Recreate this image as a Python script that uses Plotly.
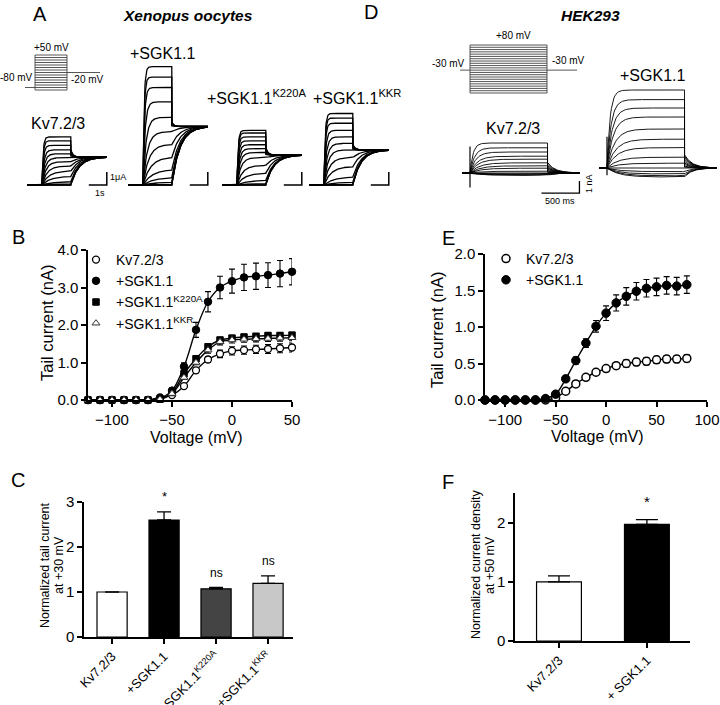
import numpy as np
import plotly.graph_objects as go

W, H = 720, 705
FONT = "Liberation Sans, Arial, sans-serif"

# ======================= DATA =======================
# Panel B (Xenopus oocytes): tail current (nA) vs voltage (mV)
B_voltage = list(range(-120, 51, 10))
B_kv = [0, 0, 0, 0, 0, 0, 0.07, 0.13, 0.37, 0.79, 1.08, 1.23, 1.31, 1.33, 1.35, 1.36, 1.38, 1.40]
B_kv_err = [0, 0, 0, 0, 0, 0, 0.01, 0.02, 0.04, 0.06, 0.08, 0.10, 0.11, 0.11, 0.11, 0.12, 0.12, 0.12]
B_sgk = [0, 0, 0, 0, 0, 0, 0.05, 0.25, 0.89, 1.87, 2.62, 3.00, 3.17, 3.27, 3.30, 3.33, 3.37, 3.42]
B_sgk_err = [0, 0, 0, 0, 0, 0, 0.02, 0.05, 0.10, 0.20, 0.27, 0.30, 0.32, 0.35, 0.35, 0.33, 0.35, 0.35]
B_k220a = [0, 0, 0, 0, 0, 0, 0.02, 0.20, 0.70, 1.10, 1.42, 1.60, 1.65, 1.68, 1.70, 1.72, 1.72, 1.73]
B_k220a_err = [0, 0, 0, 0, 0, 0, 0.01, 0.03, 0.05, 0.06, 0.07, 0.07, 0.07, 0.07, 0.07, 0.07, 0.07, 0.07]
B_kkr = [0, 0, 0, 0, 0, 0, 0.02, 0.17, 0.60, 1.00, 1.33, 1.55, 1.60, 1.62, 1.63, 1.64, 1.65, 1.66]
B_kkr_err = [0, 0, 0, 0, 0, 0, 0.01, 0.03, 0.05, 0.06, 0.08, 0.08, 0.08, 0.08, 0.08, 0.08, 0.08, 0.08]

# Panel E (HEK293): tail current (nA) vs voltage (mV)
E_voltage = list(range(-120, 81, 10))
E_kv = [0, 0, 0, 0, 0, 0, 0, 0.03, 0.12, 0.22, 0.31, 0.38, 0.43, 0.47, 0.50, 0.52, 0.53, 0.55, 0.56, 0.56, 0.57]
E_kv_err = [0, 0, 0, 0, 0, 0, 0, 0.01, 0.02, 0.02, 0.03, 0.03, 0.04, 0.04, 0.05, 0.05, 0.05, 0.05, 0.05, 0.05, 0.05]
E_sgk = [0, 0, 0, 0, 0, 0, 0.02, 0.08, 0.29, 0.54, 0.78, 1.01, 1.19, 1.33, 1.42, 1.49, 1.53, 1.55, 1.57, 1.56, 1.58]
E_sgk_err = [0, 0, 0, 0, 0, 0, 0.01, 0.02, 0.04, 0.05, 0.06, 0.08, 0.10, 0.11, 0.12, 0.12, 0.12, 0.12, 0.12, 0.12, 0.12]

# Panel C: normalized tail current at +30 mV
C_labels = ["Kv7.2/3", "+SGK1.1", "+SGK1.1<sup>K220A</sup>", "+SGK1.1<sup>KKR</sup>"]
C_values = [1.0, 2.60, 1.07, 1.19]
C_err = [0.0, 0.18, 0.03, 0.17]
C_colors = ["white", "black", "#444444", "#c8c8c8"]
C_marks = ["", "*", "ns", "ns"]

# Panel F: normalized current density at +50 mV
F_labels = ["Kv7.2/3", "+ SGK1.1"]
F_values = [1.0, 1.97]
F_err = [0.10, 0.08]
F_colors = ["white", "black"]
F_marks = ["", "*"]

# Panel A: example sweeps (end-of-step amplitude, uA) and tail level at -20 mV
A_titles = ["Kv7.2/3", "+SGK1.1", "+SGK1.1<sup>K220A</sup>", "+SGK1.1<sup>KKR</sup>"]
A_amp_kv = [3.7, 3.4, 3.05, 2.7, 2.4, 2.1, 1.8, 1.45, 1.05, 0.65, 0.25, 0.08, 0.0, 0.0]
A_amp_sgk = [9.1, 8.3, 7.5, 6.4, 5.2, 4.1, 3.1, 2.1, 1.15, 0.55, 0.2, 0.05, 0.0, 0.0]
A_amp_k220a = [4.2, 4.0, 3.7, 3.4, 3.1, 2.8, 2.5, 2.1, 1.5, 0.9, 0.35, 0.1, 0.0, 0.0]
A_amp_kkr = [5.5, 5.15, 4.75, 4.2, 3.7, 3.2, 2.7, 2.1, 1.4, 0.6, 0.2, 0.05, 0.0, 0.0]
A_tail_level = [2.15, 4.5, 2.3, 2.7]
A_tail_drop = [0.35, 0.07, 0.30, 0.15]
A_protocol_steps = list(range(-90, 51, 10))   # mV
A_hold_mv, A_tail_mv = -80, -20
A_scale_t, A_scale_i = 1.0, 1.0              # 1 s, 1 uA

# Panel D: example sweeps (steady amplitude, nA relative to holding)
D_amp_kv = [2.5, 2.1, 1.75, 1.4, 1.15, 0.85, 0.6, 0.4, 0.15, 0.0, -0.08, -0.12, -0.16, -0.2]
D_amp_sgk = [6.5, 5.7, 5.0, 4.25, 3.25, 2.4, 1.7, 0.9, 0.4, 0.0, -0.3, -0.5, -0.65, -0.75]
D_tail_drop = [0.35, 0.17]
D_transient_kv = [2.2, -1.2]
D_transient_sgk = [2.6, -0.6]
D_protocol_steps = list(range(-130, 81, 10))  # mV
D_hold_mv = -30
D_scale_t, D_scale_i = 0.5, 1.0              # 500 ms, 1 nA

# ======================= HELPERS =======================
def dx(a, b):
    return [a / W, b / W]

def dy(top, bottom):
    return [1 - bottom / H, 1 - top / H]

STEP_A, HOLD_A, TAIL_A = 1.6, 0.8, 2.0
STEP_D, HOLD_D, TAIL_D = 1.02, 0.1, 0.42


def ooc_sweeps(amps, tail_level, drop):
    amax = max(amps)
    t_step = np.linspace(0, STEP_A, 90)
    t_tail = np.linspace(0, TAIL_A, 90)
    xs, ys = [], []
    for a in amps:
        frac = a / amax
        tau = 0.06 + 0.6 * (1 - frac) ** 2
        step = a * (1 - np.exp(-t_step / tau)) / (1 - np.exp(-STEP_A / tau))
        s = a if a <= tail_level else tail_level + drop * (a - tail_level)
        tau_t = 0.12 if s > tail_level else 0.45
        tail = tail_level + (s - tail_level) * np.exp(-t_tail / tau_t)
        xs += [-HOLD_A] + list(t_step) + list(STEP_A + t_tail) + [None]
        ys += [0.0] + list(step) + list(tail) + [None]
    return xs, ys


def hek_sweeps(amps, drop):
    amax = max(amps)
    t_step = np.linspace(0, STEP_D, 90)
    t_tail = np.linspace(0, TAIL_D, 60)
    xs, ys = [], []
    for a in amps:
        tau = 0.04 + 0.12 * (1 - max(a, 0) / amax)
        step = a * (1 - np.exp(-t_step / tau)) / (1 - np.exp(-STEP_D / tau))
        s = drop * a if a > 0 else a
        tail = s * np.exp(-t_tail / 0.1)
        xs += [-HOLD_D] + list(t_step) + list(STEP_D + t_tail) + [None]
        ys += [0.0] + list(step) + list(tail) + [None]
    return xs, ys


def protocol(steps, hold, tail, t_step, t_hold, t_tail):
    xs, ys = [], []
    for v in steps:
        xs += [0, t_step, None]
        ys += [v, v, None]
    xs += [0, 0, None, t_step, t_step, None, -t_hold, 0, None, t_step, t_step + t_tail]
    ys += [min(steps), max(steps), None, min(steps), max(steps), None, hold, hold, None, tail, tail]
    return xs, ys


def err_or_none(errs):
    return [e if e > 0 else None for e in errs]


fig = go.Figure()

# ---------- Panel B ----------
B_series = [
    ("Kv7.2/3", B_kv, B_kv_err, dict(symbol="circle", color="white", size=7, line=dict(color="black", width=1.3))),
    ("+SGK1.1", B_sgk, B_sgk_err, dict(symbol="circle", color="black", size=7.5, line=dict(color="black", width=1))),
    ("+SGK1.1<sup>K220A</sup>", B_k220a, B_k220a_err, dict(symbol="square", color="black", size=6.5, line=dict(color="black", width=1))),
    ("+SGK1.1<sup>KKR</sup>", B_kkr, B_kkr_err, dict(symbol="triangle-up", color="white", size=7, line=dict(color="#333", width=1))),
]
for name, vals, err, mk in B_series:
    fig.add_trace(go.Scatter(x=B_voltage, y=vals, mode="lines", line=dict(color="black", width=1.4, shape="spline", smoothing=1.0),
                             xaxis="x", yaxis="y", showlegend=False, hoverinfo="skip", cliponaxis=False))
for name, vals, err, mk in B_series:
    fig.add_trace(go.Scatter(x=B_voltage, y=vals, mode="markers", name=name, marker=mk,
                             error_y=dict(type="data", array=err, color="black", thickness=1.1, width=3),
                             xaxis="x", yaxis="y", legend="legend", cliponaxis=False))

# ---------- Panel E ----------
E_series = [
    ("Kv7.2/3", E_kv, E_kv_err, dict(symbol="circle", color="white", size=8, line=dict(color="black", width=1.5))),
    ("+SGK1.1", E_sgk, E_sgk_err, dict(symbol="circle", color="black", size=8.5, line=dict(color="black", width=1))),
]
for name, vals, err, mk in E_series:
    fig.add_trace(go.Scatter(x=E_voltage, y=vals, mode="lines", line=dict(color="black", width=1.4, shape="spline", smoothing=1.0),
                             xaxis="x2", yaxis="y2", showlegend=False, hoverinfo="skip", cliponaxis=False))
for name, vals, err, mk in E_series:
    fig.add_trace(go.Scatter(x=E_voltage, y=vals, mode="markers", name=name, marker=mk,
                             error_y=dict(type="data", array=err, color="black", thickness=1.1, width=3),
                             xaxis="x2", yaxis="y2", legend="legend2", cliponaxis=False))

# ---------- Panel C ----------
fig.add_trace(go.Bar(x=list(range(len(C_values))), y=C_values, width=0.58,
                     marker=dict(color=C_colors, line=dict(color="black", width=1.2)),
                     error_y=dict(type="data", array=err_or_none(C_err), arrayminus=[0] * len(C_err), symmetric=False,
                                  color="black", thickness=1.3, width=7),
                     xaxis="x3", yaxis="y3", showlegend=False))

# ---------- Panel F ----------
fig.add_trace(go.Bar(x=list(range(len(F_values))), y=F_values, width=0.51,
                     marker=dict(color=F_colors, line=dict(color="black", width=1.2)),
                     error_y=dict(type="data", array=err_or_none(F_err), arrayminus=[0] * len(F_err), symmetric=False,
                                  color="black", thickness=1.3, width=11),
                     xaxis="x4", yaxis="y4", showlegend=False))

# ---------- Panel A protocol ----------
px_, py_ = protocol(A_protocol_steps, A_hold_mv, A_tail_mv, STEP_A, 0.5, 1.65)
fig.add_trace(go.Scatter(x=px_, y=py_, mode="lines", line=dict(color="#444", width=0.9),
                         xaxis="x5", yaxis="y5", showlegend=False, hoverinfo="skip"))

# ---------- Panel A sweeps ----------
A_amps = [A_amp_kv, A_amp_sgk, A_amp_k220a, A_amp_kkr]
for i, amps in enumerate(A_amps):
    xs, ys = ooc_sweeps(amps, A_tail_level[i], A_tail_drop[i])
    ax = str(6 + i)
    fig.add_trace(go.Scatter(x=xs, y=ys, mode="lines", line=dict(color="black", width=1.3),
                             xaxis="x" + ax, yaxis="y" + ax, showlegend=False, hoverinfo="skip"))
    t_end = STEP_A + TAIL_A
    fig.add_trace(go.Scatter(x=[t_end - A_scale_t, t_end, t_end], y=[0, 0, A_scale_i], mode="lines",
                             line=dict(color="black", width=1.5),
                             xaxis="x" + ax, yaxis="y" + ax, showlegend=False, hoverinfo="skip"))

# ---------- Panel D protocol ----------
px_, py_ = protocol(D_protocol_steps, D_hold_mv, D_hold_mv, 1.0, 0.13, 0.39)
fig.add_trace(go.Scatter(x=px_, y=py_, mode="lines", line=dict(color="#444", width=0.9),
                         xaxis="x10", yaxis="y10", showlegend=False, hoverinfo="skip"))

# ---------- Panel D sweeps ----------
for i, (amps, trans) in enumerate([(D_amp_kv, D_transient_kv), (D_amp_sgk, D_transient_sgk)]):
    xs, ys = hek_sweeps(amps, D_tail_drop[i])
    ax = str(11 + i)
    fig.add_trace(go.Scatter(x=xs, y=ys, mode="lines", line=dict(color="black", width=0.9),
                             xaxis="x" + ax, yaxis="y" + ax, showlegend=False, hoverinfo="skip"))
    fig.add_trace(go.Scatter(x=[0, 0], y=trans, mode="lines", line=dict(color="black", width=1.2),
                             xaxis="x" + ax, yaxis="y" + ax, showlegend=False, hoverinfo="skip"))
t_end_d = STEP_D + TAIL_D
fig.add_trace(go.Scatter(x=[t_end_d - D_scale_t, t_end_d, t_end_d], y=[-1.67, -1.67, -1.67 + D_scale_i],
                         mode="lines", line=dict(color="black", width=1.3),
                         xaxis="x11", yaxis="y11", showlegend=False, hoverinfo="skip"))

# ======================= LAYOUT =======================
def data_axis(**kw):
    base = dict(showline=True, linecolor="black", linewidth=1.5, ticks="outside", ticklen=5, tickwidth=1.5,
                tickcolor="black", showgrid=False, zeroline=False, automargin=False,
                tickfont=dict(size=15, color="black", family=FONT))
    base.update(kw)
    return base


def hidden(**kw):
    base = dict(visible=False, showgrid=False, zeroline=False, automargin=False)
    base.update(kw)
    return base


layout = dict(
    template="none",
    width=W, height=H, margin=dict(l=0, r=0, t=0, b=0, pad=0), autosize=False,
    paper_bgcolor="white", plot_bgcolor="rgba(0,0,0,0)",
    font=dict(family=FONT, color="black"),
    # B
    xaxis=data_axis(domain=dx(88, 292), range=[-120, 50], tickvals=[-100, -50, 0, 50], anchor="y"),
    yaxis=data_axis(domain=dy(250, 400), range=[0, 4], tickvals=[0, 1, 2, 3, 4], tickformat=".1f", anchor="x"),
    # E
    xaxis2=data_axis(domain=dx(485, 707), range=[-120, 100], tickvals=[-100, -50, 0, 50, 100], anchor="y2"),
    yaxis2=data_axis(domain=dy(254, 400), range=[0, 2], tickvals=[0, 0.5, 1, 1.5, 2], tickformat=".1f", anchor="x2"),
    # C
    xaxis3=data_axis(domain=dx(84, 293), range=[-0.54, 3.48], tickvals=list(range(4)), ticktext=C_labels,
                     tickangle=-45, tickfont=dict(size=13, color="black", family=FONT), anchor="y3"),
    yaxis3=data_axis(domain=dy(502, 637), range=[0, 3], tickvals=[0, 1, 2, 3], anchor="x3"),
    # F
    xaxis4=data_axis(domain=dx(515, 690), range=[-0.5, 1.49], tickvals=[0, 1], ticktext=F_labels,
                     tickangle=-45, tickfont=dict(size=13, color="black", family=FONT), anchor="y4"),
    yaxis4=data_axis(domain=dy(493, 641), range=[0, 2.5], tickvals=[0, 1, 2], anchor="x4"),
    # A protocol
    xaxis5=hidden(domain=dx(20, 105), range=[-0.75, 3.5], anchor="y5"),
    yaxis5=hidden(domain=dy(50, 95), range=[-110, 70], anchor="x5"),
    # D protocol
    xaxis10=hidden(domain=dx(455, 585), range=[-15 / 77, 115 / 77], anchor="y10"),
    yaxis10=hidden(domain=dy(40, 98), range=[-151.9, 101.9], anchor="x10"),
    # D sweeps
    xaxis11=hidden(domain=dx(455, 590), range=[-15 / 76, 120 / 76], anchor="y11"),
    yaxis11=hidden(domain=dy(100, 200), range=[-27 / 12, 73 / 12], anchor="x11"),
    xaxis12=hidden(domain=dx(595, 720), range=[-12 / 76, 113 / 76], anchor="y12"),
    yaxis12=hidden(domain=dy(60, 200), range=[-32 / 12, 108 / 12], anchor="x12"),
    legend=dict(x=76 / W, y=1 - 244 / H, xanchor="left", yanchor="top", bgcolor="rgba(0,0,0,0)",
                font=dict(size=14, family=FONT, color="black"), tracegroupgap=0, itemwidth=30),
    legend2=dict(x=486 / W, y=1 - 243 / H, xanchor="left", yanchor="top", bgcolor="rgba(0,0,0,0)",
                 font=dict(size=14, family=FONT, color="black"), tracegroupgap=0, itemwidth=30),
)
A_step_starts = [42, 143, 237, 324]
for i, s0 in enumerate(A_step_starts):
    ax = str(6 + i)
    layout["xaxis" + ax] = hidden(domain=dx(s0 - 20, s0 + 72), range=[-20 / 18, 72 / 18], anchor="y" + ax)
    layout["yaxis" + ax] = hidden(domain=dy(55, 195), range=[-10 / 13, 130 / 13], anchor="x" + ax)

fig.update_layout(**layout)

# ---------- text ----------
def label(text, x, y, size, angle=0):
    fig.add_annotation(text=text, x=x / W, y=1 - y / H, xref="paper", yref="paper", showarrow=False,
                       font=dict(size=size, family=FONT, color="black"), textangle=angle,
                       xanchor="center", yanchor="middle")

label("A", 40, 14, 20)
label("<b><i>Xenopus oocytes</i></b>", 188, 15, 15.5)
label("+50 mV", 51, 48, 10)
label("-80 mV", 16, 77, 10)
label("-20 mV", 87, 80, 10)
xs_title = [58, 162, 257, 357]
ys_title = [123, 53, 97, 97]
for t, xx, yy in zip(A_titles, xs_title, ys_title):
    label(t, xx, yy, 16)
label("1μA", 118, 177, 9)
label("1s", 100, 193, 9)

label("D", 371, 12, 20)
label("<b><i>HEK293</i></b>", 590, 15, 15.5)
label("+80 mV", 513, 36, 10)
label("-30 mV", 448, 63, 10)
label("-30 mV", 568, 60, 10)
label("Kv7.2/3", 513, 128, 16)
label("+SGK1.1", 652, 75, 16)
label("500 ms", 560, 201, 9)
label("1 nA", 589, 184, 9, angle=-90)

label("B", 18, 237, 20)
label("C", 18, 480, 20)
label("E", 448, 238, 20)
label("F", 448, 482, 20)

label("Tail current (nA)", 47, 323, 16.5, angle=-90)
label("Voltage (mV)", 196, 437, 16)
label("Tail current (nA)", 437, 330, 16.5, angle=-90)
label("Voltage (mV)", 597, 436, 16)
label("Normalized tail current", 45, 565, 12.5, angle=-90)
label("at +30 mV", 59, 565, 12.5, angle=-90)
label("Normalized current density", 476, 565, 12.5, angle=-90)
label("at +50 mV", 490, 565, 12.5, angle=-90)

for i, (v, e, m) in enumerate(zip(C_values, C_err, C_marks)):
    if m:
        fig.add_annotation(text=m, x=i, y=v + e, xref="x3", yref="y3", showarrow=False, yanchor="bottom",
                           yshift=6, font=dict(size=13 if m == "*" else 12, family=FONT, color="black"))
for i, (v, e, m) in enumerate(zip(F_values, F_err, F_marks)):
    if m:
        fig.add_annotation(text=m, x=i, y=v + e, xref="x4", yref="y4", showarrow=False, yanchor="bottom",
                           yshift=8, font=dict(size=15, family=FONT, color="black"))

fig.write_html("out.html", config={"displayModeBar": False},
               post_script="document.body.style.margin='0';document.body.style.overflow='hidden';")
